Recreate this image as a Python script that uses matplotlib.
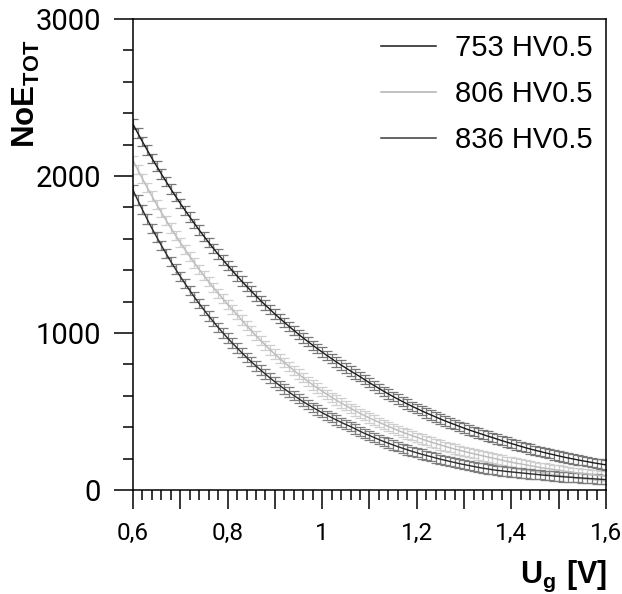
import matplotlib.pyplot as plt
from matplotlib import font_manager
from matplotlib.lines import Line2D
from matplotlib.ticker import MultipleLocator, FixedLocator, FuncFormatter

# Ug [V], 0.60 .. 1.60 in steps of 0.01
ug = [round(0.60 + 0.01 * i, 2) for i in range(101)]

noe_753 = [2330, 2274, 2219, 2166, 2113, 2063, 2013, 1965, 1917, 1871,
           1826, 1782, 1739, 1697, 1656, 1616, 1577, 1539, 1502, 1466,
           1431, 1397, 1363, 1330, 1298, 1267, 1236, 1206, 1177, 1149,
           1121, 1094, 1068, 1042, 1017, 992, 968, 945, 922, 900,
           878, 857, 836, 816, 796, 777, 758, 740, 722, 702,
           683, 665, 647, 629, 612, 595, 579, 563, 548, 533,
           519, 505, 491, 478, 465, 452, 440, 428, 417, 405,
           394, 383, 373, 363, 353, 343, 334, 324, 314, 305,
           296, 287, 278, 269, 261, 253, 246, 238, 231, 224,
           217, 210, 204, 198, 192, 186, 181, 175, 170, 165, 160]

noe_806 = [2100, 2041, 1983, 1927, 1872, 1819, 1768, 1718, 1669, 1622,
           1576, 1531, 1488, 1446, 1405, 1365, 1327, 1289, 1253, 1218,
           1183, 1150, 1117, 1082, 1048, 1015, 983, 952, 922, 893,
           865, 838, 812, 787, 762, 738, 715, 692, 670, 649,
           629, 609, 590, 572, 554, 537, 520, 504, 488, 473,
           459, 445, 431, 418, 405, 392, 380, 368, 357, 346,
           336, 325, 315, 305, 296, 287, 278, 269, 261, 253,
           246, 238, 231, 224, 217, 210, 204, 197, 190, 183,
           177, 171, 166, 160, 155, 149, 144, 139, 135, 130,
           126, 121, 117, 113, 109, 105, 102, 98, 95, 92, 89]

noe_836 = [1910, 1847, 1785, 1725, 1667, 1612, 1558, 1506, 1455, 1407,
           1360, 1315, 1271, 1228, 1187, 1147, 1109, 1072, 1036, 1001,
           968, 936, 905, 875, 845, 817, 790, 764, 738, 713,
           689, 666, 644, 623, 602, 582, 562, 544, 526, 509,
           492, 476, 461, 446, 431, 417, 404, 389, 374, 360,
           347, 334, 321, 309, 298, 287, 276, 266, 256, 246,
           237, 228, 220, 212, 204, 196, 189, 182, 175, 168,
           162, 156, 150, 144, 139, 134, 129, 125, 122, 118,
           115, 112, 109, 106, 103, 100, 97, 94, 92, 89,
           87, 84, 82, 80, 78, 76, 74, 72, 70, 68, 66]

err_753 = 30
err_806 = 30
err_836 = 30

labels = ["753 HV0.5", "806 HV0.5", "836 HV0.5"]
x_ticklabels = ["0,6", "0,8", "1", "1,2", "1,4", "1,6"]

# narrow font for legend and axis titles, if it is there
names = {f.name for f in font_manager.fontManager.ttflist}
narrow = "Liberation Sans Narrow" if "Liberation Sans Narrow" in names else "Liberation Sans"

plt.rcParams["font.family"] = ["Roboto", "DejaVu Sans"]
plt.rcParams["mathtext.fontset"] = "custom"
plt.rcParams["mathtext.bf"] = narrow + ":bold"
plt.rcParams["mathtext.rm"] = narrow

fig = plt.figure(figsize=(6.22, 5.94), dpi=100)
ax = fig.add_axes([0.2138, 0.1751, 0.7605, 0.7929])

# lightest first, darker curves on top
ax.errorbar(ug, noe_806, yerr=err_806, color="#bdbdbd", lw=1.1,
            ecolor="#cfcfcf", elinewidth=0.9, capsize=3.4, capthick=0.9)
ax.errorbar(ug, noe_836, yerr=err_836, color="#2a2a2a", lw=1.0,
            ecolor="#7e7e7e", elinewidth=0.9, capsize=3.4, capthick=0.9)
ax.errorbar(ug, noe_753, yerr=err_753, color="#1a1a1a", lw=1.0,
            ecolor="#777777", elinewidth=0.9, capsize=3.4, capthick=0.9)

ax.set_xlim(0.6, 1.6)
ax.set_ylim(0, 3000)

for s in ax.spines.values():
    s.set_linewidth(1.1)

# x: long ticks every 0.1, short every 0.02, labels every 0.2
ax.xaxis.set_major_locator(FixedLocator([0.6 + 0.1 * i for i in range(11)]))
ax.xaxis.set_minor_locator(MultipleLocator(0.02))
lab = {round(0.6 + 0.2 * i, 2): t for i, t in enumerate(x_ticklabels)}
ax.xaxis.set_major_formatter(FuncFormatter(lambda v, p: lab.get(round(v, 2), "")))

ax.yaxis.set_major_locator(MultipleLocator(1000))
ax.yaxis.set_minor_locator(MultipleLocator(200))

ax.tick_params(axis="x", which="major", direction="out", length=14, width=1.1,
               labelsize=17.5, pad=9)
ax.tick_params(axis="x", which="minor", direction="out", length=7, width=1.1)
ax.tick_params(axis="y", which="major", direction="out", length=14, width=1.1,
               labelsize=21, pad=9)
ax.tick_params(axis="y", which="minor", direction="out", length=7, width=1.1)

fig.text(0.042, 0.842, r"$\mathbf{NoE_{TOT}}$", rotation=90, fontsize=22.5,
         ha="center", va="center")
fig.text(0.976, 0.0185, r"$\mathbf{U_{g}\ [V]}$", fontsize=22,
         ha="right", va="baseline")

handles = [Line2D([], [], color="#1a1a1a", lw=1.1),
           Line2D([], [], color="#b0b0b0", lw=1.1),
           Line2D([], [], color="#3a3a3a", lw=1.1)]
ax.legend(handles, labels, loc="upper right", bbox_to_anchor=(0.9534, 0.9428),
          bbox_transform=fig.transFigure, frameon=False,
          prop={"family": narrow, "size": 21},
          handlelength=1.9, handletextpad=0.65, labelspacing=0.62,
          borderpad=0, borderaxespad=0)

fig.savefig("out.png", dpi=100)
